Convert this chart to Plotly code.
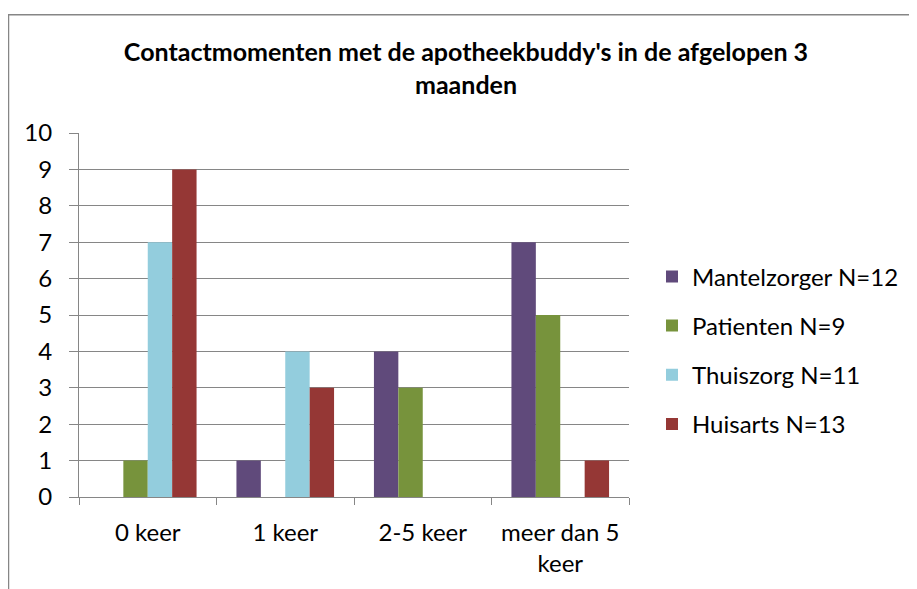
import plotly.graph_objects as go

categories = ["0 keer", "1 keer", "2-5 keer", "meer dan 5<br>keer"]
series_names = ["Mantelzorger N=12", "Patienten N=9", "Thuiszorg N=11", "Huisarts N=13"]
mantelzorger = [0, 1, 4, 7]
patienten = [1, 0, 3, 5]
thuiszorg = [7, 4, 0, 0]
huisarts = [9, 3, 0, 1]
colors = ["#604A7B", "#77933C", "#93CDDD", "#953735"]
title_text = "Contactmomenten met de apotheekbuddy's in de afgelopen 3<br>maanden"

FONT = "Lato"
OFF = 8  # page body margin
W, H = 917 - OFF, 589 - OFF
L, R, T, B = 79 - OFF, 629 - OFF, 133 - OFF, 499 - OFF
pw, ph = R - L, B - T

fig = go.Figure()
for i, (name, vals) in enumerate(zip(series_names, [mantelzorger, patienten, thuiszorg, huisarts])):
    fig.add_trace(go.Bar(x=categories, y=vals, name=name, marker=dict(color=colors[i], line=dict(width=0)),
                         legendgroup=f"g{i}"))

grid = "#868686"
fig.update_layout(
    width=W, height=H,
    margin=dict(l=L, r=W - R, t=T, b=H - B),
    paper_bgcolor="white", plot_bgcolor="white",
    barmode="group", bargap=0.29, bargroupgap=0,
    font=dict(family=FONT, size=24, color="black"),
    showlegend=True,
    legend=dict(x=(644 - L) / pw, xanchor="left", y=(B - (351.5 - OFF)) / ph, yanchor="middle",
                traceorder="grouped", tracegroupgap=15, font=dict(size=24, family=FONT),
                bgcolor="rgba(0,0,0,0)"),
    title=dict(text=title_text, x=(466 - OFF) / W, xanchor="center", xref="container",
               y=1 - (61 - OFF) / H, yanchor="middle", yref="container",
               font=dict(family=FONT, size=25, color="black", weight="bold")),
    shapes=[dict(type="rect", xref="paper", yref="paper",
                 x0=(0.5 - L) / pw, x1=(W + 30 - L) / pw, y0=(B - (H + 30)) / ph, y1=(B - 6) / ph,
                 line=dict(color=grid, width=1.5), fillcolor="rgba(0,0,0,0)", layer="below")],
)
fig.update_xaxes(showline=True, linecolor=grid, linewidth=1, ticks="outside", tickson="boundaries",
                 ticklen=7, tickcolor=grid, showgrid=False, ticklabelstandoff=14,
                 tickfont=dict(size=24, family=FONT))
fig.update_yaxes(range=[0, 10], dtick=1, showline=True, linecolor=grid, linewidth=1, showgrid=True,
                 gridcolor=grid, gridwidth=1, ticks="outside", ticklen=9, tickcolor=grid,
                 ticklabelstandoff=12, zeroline=False, tickfont=dict(size=24, family=FONT))

fig.write_html("out.html")
